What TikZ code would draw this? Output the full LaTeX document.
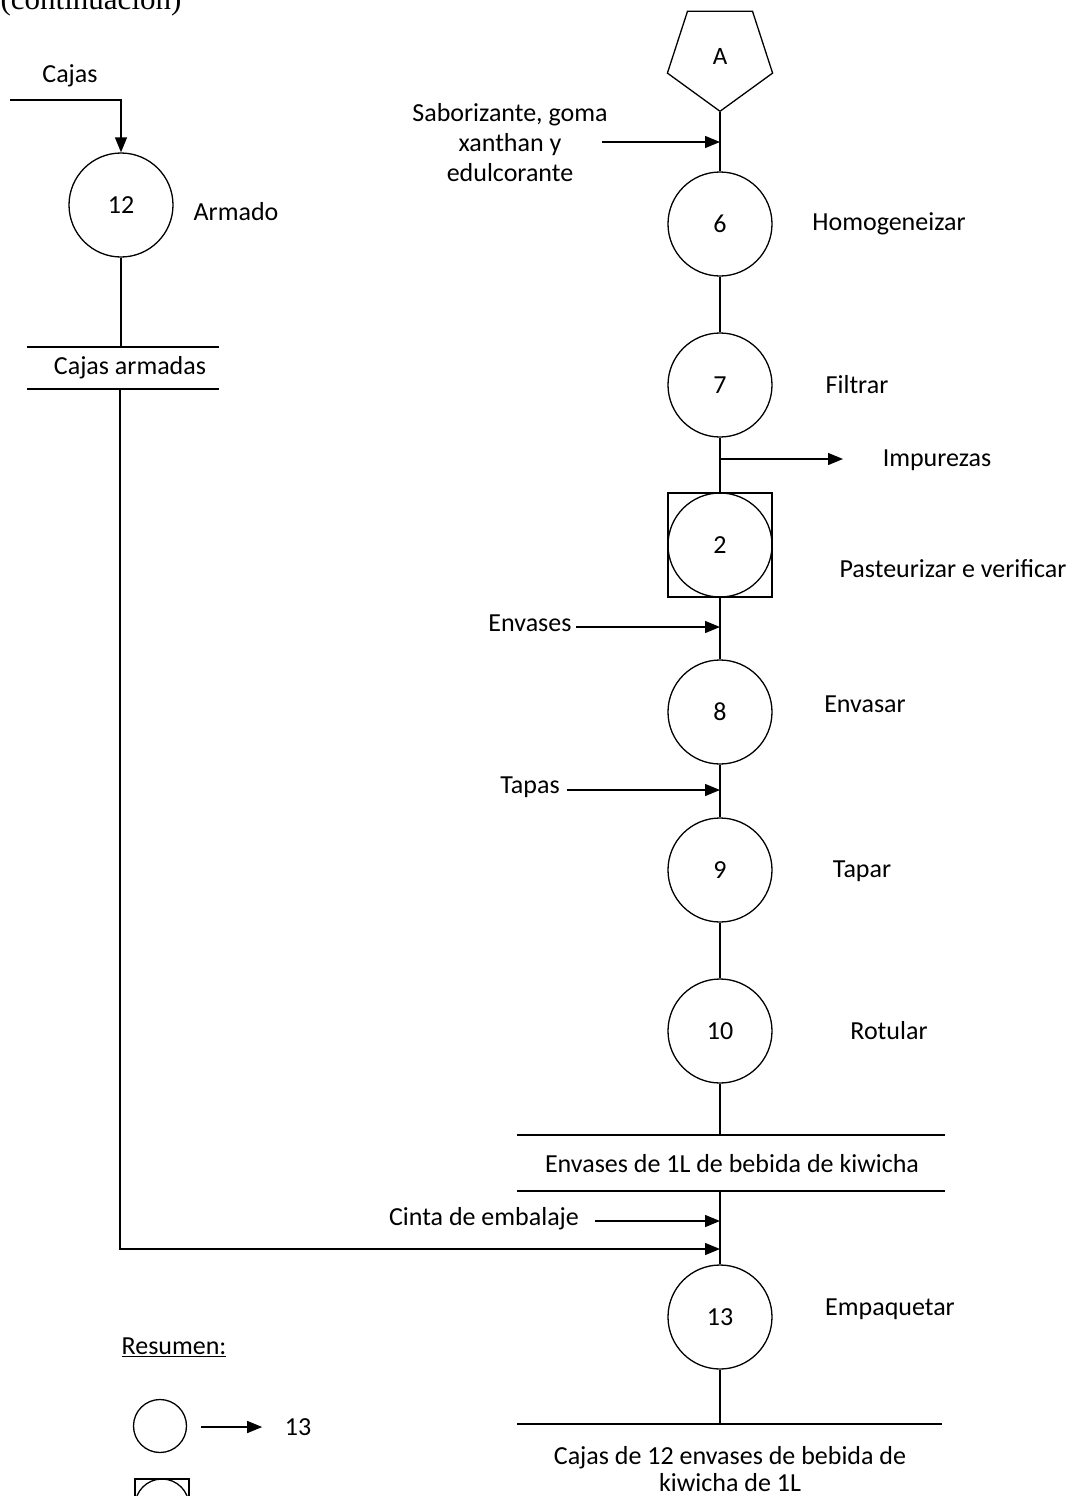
\documentclass[tikz,border=0pt]{standalone}
\usepackage{fontspec}
\setmainfont{Carlito}
\newfontfamily\headserif{Liberation Serif}
\usetikzlibrary{arrows.meta,shapes.geometric,calc}
\begin{document}
\begin{tikzpicture}[x=1pt,y=-1pt,line width=1.3pt,
  op/.style={circle,draw,minimum size=104pt,inner sep=0pt,font=\fontsize{26}{30}\selectfont},
  opbox/.style={rectangle,draw,minimum size=104pt,inner sep=0pt},
  txt/.style={inner sep=0pt,font=\fontsize{26}{30}\selectfont,align=center},
  arr/.style={-{Triangle[length=15pt,width=12pt]}},
  storeline/.style={draw}]
\clip (0,0) rectangle (1078,1496);
\useasboundingbox (0,0) rectangle (1078,1496);

% page heading (partly above the page edge)
\node[anchor=base west,inner sep=0pt,font=\headserif\fontsize{31}{36}\selectfont] (head) at (0,10) {(continuación)};

% ---------------- main line ----------------
\node[regular polygon,regular polygon sides=5,shape border rotate=180,draw,
      minimum size=110.6pt,inner sep=0pt,font=\fontsize{25}{28}\selectfont] (A) at (720,56) {A};
\node[op] (c6) at (720,224) {6};
\node[op] (c7) at (720,385) {7};
\node[opbox] (sq2) at (720,545) {};
\node[op] (c2) at (720,545) {2};
\node[op] (c8) at (720,712) {8};
\node[op] (c9) at (720,870) {9};
\node[op] (c10) at (720,1031) {10};
\node[op] (c13) at (720,1317) {13};

% operation labels
\node[txt] (lh) at (889,224) {Homogeneizar};
\node[txt] (lf) at (857,385) {Filtrar};
\node[txt] (lp) at (953,569) {Pasteurizar e verificar};
\node[txt] (le) at (865,704) {Envasar};
\node[txt] (lt) at (862,871) {Tapar};
\node[txt] (lr) at (889,1031) {Rotular};
\node[txt] (lem) at (890,1309) {Empaquetar};

% storage: filled containers
\draw[storeline] (517,1135) coordinate (s1top) -- (945,1135);
\draw[storeline] (517,1191) coordinate (s1bot) -- (945,1191);
\node[txt] (s1) at (732,1164) {Envases de 1L de bebida de kiwicha};
% storage: packed boxes
\draw[storeline] (517,1424) coordinate (s2top) -- (942,1424);
\node[txt,font=\fontsize{26}{27}\selectfont] (s2) at (730,1469) {Cajas de 12 envases de bebida de\\kiwicha de 1L};

% vertical flow
\draw (A.corner 1) -- (c6);
\draw (c6) -- (c7);
\draw (c7) -- (sq2);
\draw (sq2) -- (c8);
\draw (c8) -- (c9);
\draw (c9) -- (c10);
\draw (c10) -- (c10 |- s1top);
\draw (c10 |- s1bot) -- (c13);
\draw (c13) -- (c13 |- s2top);

% inputs and outputs
\node[txt] (sab) at (510,143) {Saborizante, goma\\xanthan y\\edulcorante};
\coordinate (sabt) at (602,142);
\draw[arr] (sabt) -- (sabt -| c6);

\coordinate (impt) at (843,459);
\draw[arr] (impt -| c7) -- (impt);
\node[txt] (imp) at (937,460) {Impurezas};

\node[txt] (env) at (530,623) {Envases};
\coordinate (envt) at (576,627);
\draw[arr] (envt) -- (envt -| c8);

\node[txt] (tap) at (530,787) {Tapas};
\coordinate (tapt) at (567,790);
\draw[arr] (tapt) -- (tapt -| c9);

\node[txt] (cin) at (484,1219) {Cinta de embalaje};
\coordinate (cint) at (595,1221);
\draw[arr] (cint) -- (cint -| c13);

% ---------------- box line ----------------
\node[txt] (caj) at (70,76) {Cajas};
\coordinate (cajt) at (10,100);
\node[op] (c12) at (121,205) {12};
\node[txt] (arm) at (236,212) {Armado};
\draw[arr] (cajt) -| (c12);

\draw[storeline] (27,347) coordinate (s3top) -- (219,347);
\draw[storeline] (27,389) coordinate (s3bot) -- (219,389);
\node[txt] (s3) at (130,368) {Cajas armadas};
\draw (c12) -- (c12 |- s3top);
\coordinate (join) at (120,1249);
\draw[arr] (join |- s3bot) -- (join) -- (join -| c13);

% ---------------- summary ----------------
\node[txt,anchor=west] (res) at (121,1347) {\underline{Resumen:}};
\node[circle,draw,minimum size=53pt,inner sep=0pt] (lc) at (160,1426) {};
\node[txt] (n13) at (298,1427) {13};
\coordinate (la1) at (201,1427);
\draw[arr] (la1) -- ($(n13.west)+(-22,0)$);
\node[rectangle,draw,minimum size=54pt,inner sep=0pt] (lsq) at (162,1506) {};
\node[circle,draw,minimum size=54pt,inner sep=0pt] (lsc) at (162,1506) {};
\node[txt] (n2) at (298,1506) {2};
\coordinate (la2) at (201,1506);
\draw[arr] (la2) -- ($(n2.west)+(-28,0)$);
\end{tikzpicture}
\end{document}
